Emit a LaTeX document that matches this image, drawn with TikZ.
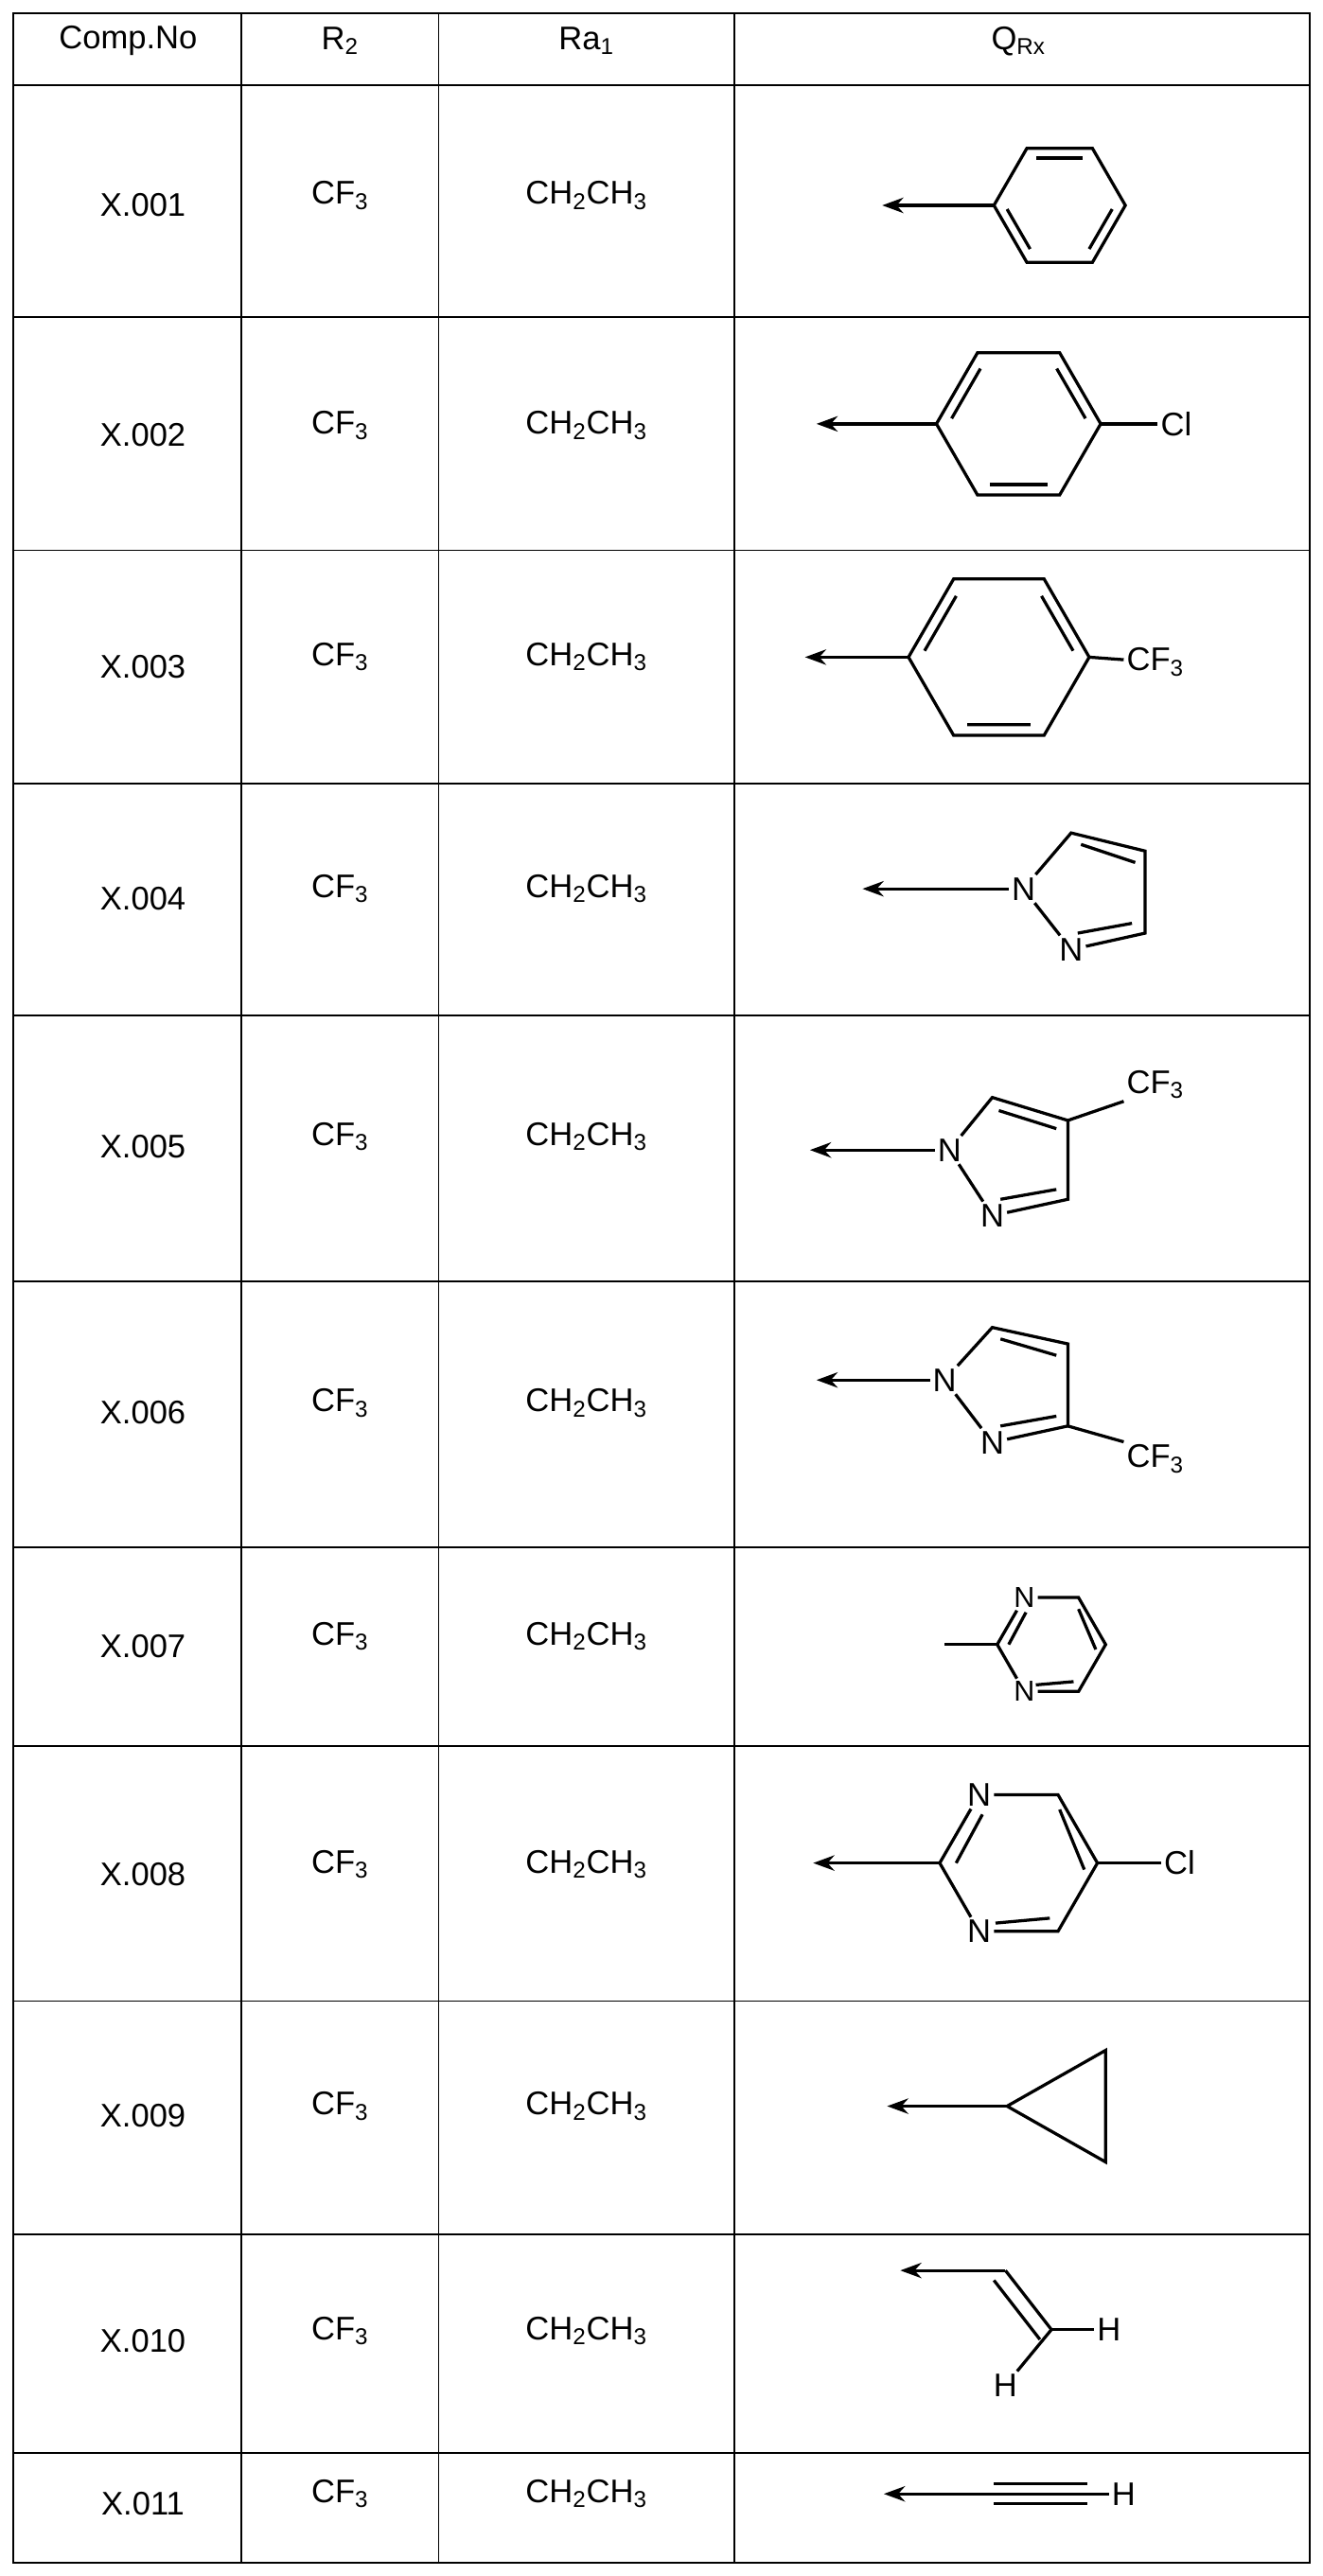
\documentclass[tikz,border=0pt]{standalone}
\usepackage{fontspec}
\setmainfont{Liberation Sans}
\usetikzlibrary{arrows.meta,calc}
\newcommand{\sub}[1]{\textsubscript{#1}}
\begin{document}
\begin{tikzpicture}[x=0.03cm,y=-0.03cm,line width=1.1pt,
  txt/.style={inner sep=1pt,font=\fontsize{17}{20}\selectfont},
  atm/.style={inner sep=1pt,font=\fontsize{17}{20}\selectfont},
  bnd/.style={line width=1.6pt},
  arr/.style={bnd,-{Stealth[length=11pt,width=8pt]}}]
\useasboundingbox (0,0) rectangle (805,1568);
% grid
\draw[line width=0.9pt] (8,8) rectangle (797,1560);
\foreach \x in {147,267,447} \draw[line width=0.9pt] (\x,8) -- (\x,1560);
\foreach \y in {52,193,335,477,618,780,942,1063,1218,1360,1493}
  \draw[line width=0.9pt] (8,\y) -- (797,\y);
% header
\node[txt] (h1) at (78,25) {Comp.No};
\node[txt] (h2) at (207,25) {R\sub{2}};
\node[txt] (h3) at (357,25) {Ra\sub{1}};
\node[txt] (h4) at (620,25) {Q\sub{Rx}};
% rows
\foreach \n/\y in {001/125,002/265,003/406,004/547,005/698,006/860,007/1002,008/1141,009/1288,010/1425,011/1524}{
  \node[txt] (c\n) at (87,\y) {X.\n};
  \node[txt] (r\n) at (207,\y-6) {CF\sub{3}};
  \node[txt] (a\n) at (357,\y-6) {CH\sub{2}CH\sub{3}};
}
% X.001 phenyl
\foreach \i in {0,...,5} \coordinate (p\i) at ($(645,125)+(180-60*\i:40 and -40)$);
\draw[bnd] (p0)--(p1)--(p2)--(p3)--(p4)--(p5)--cycle;
\foreach \i/\j in {1/2,3/4,5/0} \draw[bnd] ($(p\i)!0.15!(p\j)!0.17!-90:(p\j)$) -- ($(p\j)!0.15!(p\i)!0.17!90:(p\i)$);
\coordinate (e1) at (537,125);
\draw[arr] (p0) -- (e1);
% X.002 4-chlorophenyl
\foreach \i in {0,...,5} \coordinate (q\i) at ($(620,258)+(180-60*\i:50 and -50)$);
\draw[bnd] (q0)--(q1)--(q2)--(q3)--(q4)--(q5)--cycle;
\foreach \i/\j in {0/1,2/3,4/5} \draw[bnd] ($(q\i)!0.15!(q\j)!0.15!-90:(q\j)$) -- ($(q\j)!0.15!(q\i)!0.15!90:(q\i)$);
\node[atm] (cl2) at (716,258) {Cl};
\coordinate (e2) at (497,258);
\draw[arr] (q0) -- (e2);
\draw[bnd] (q3) -- (cl2);
% X.003 4-CF3-phenyl
\foreach \i in {0,...,5} \coordinate (s\i) at ($(608,400)+(180-60*\i:55 and -55)$);
\draw[bnd] (s0)--(s1)--(s2)--(s3)--(s4)--(s5)--cycle;
\foreach \i/\j in {0/1,2/3,4/5} \draw[bnd] ($(s\i)!0.15!(s\j)!0.14!-90:(s\j)$) -- ($(s\j)!0.15!(s\i)!0.14!90:(s\i)$);
\node[atm,anchor=west] (cf3) at (684,403) {CF\sub{3}};
\coordinate (e3) at (490,400);
\draw[arr] (s0) -- (e3);
\draw[bnd] (s3) -- (cf3);
% X.004 pyrazol-1-yl
\node[atm] (n4a) at (623,541) {N};
\node[atm] (n4b) at (652,578) {N};
\coordinate (c4a) at (652,507); \coordinate (c4b) at (697,518); \coordinate (c4c) at (697,568);
\draw[bnd] (n4a)--(c4a)--(c4b)--(c4c)--(n4b)--(n4a);
\draw[bnd] ($(c4a)+(6,7)$) -- ($(c4b)+(-6,7)$);
\draw[bnd] ($(c4c)+(-8,-6)$) -- ($(n4b)+(4,-10)$);
\coordinate (e4) at (525,541);
\draw[arr] (n4a) -- (e4);
% X.005 4-CF3-pyrazol-1-yl
\node[atm] (n5a) at (578,700) {N};
\node[atm] (n5b) at (604,740) {N};
\coordinate (c5a) at (604,668); \coordinate (c5b) at (650,682); \coordinate (c5c) at (650,730);
\draw[bnd] (n5a)--(c5a)--(c5b)--(c5c)--(n5b)--(n5a);
\draw[bnd] ($(c5a)+(4,8)$) -- ($(c5b)+(-7,5)$);
\draw[bnd] ($(c5c)+(-7,-6)$) -- ($(n5b)+(5,-10)$);
\node[atm,anchor=west] (cf5) at (684,660) {CF\sub{3}};
\draw[bnd] (c5b) -- (cf5.south west);
\coordinate (e5) at (493,700);
\draw[arr] (n5a) -- (e5);
% X.006 3-CF3-pyrazol-1-yl
\node[atm] (n6a) at (575,840) {N};
\node[atm] (n6b) at (604,878) {N};
\coordinate (c6a) at (604,808); \coordinate (c6b) at (650,818); \coordinate (c6c) at (650,868);
\draw[bnd] (n6a)--(c6a)--(c6b)--(c6c)--(n6b)--(n6a);
\draw[bnd] ($(c6a)+(5,7)$) -- ($(c6b)+(-7,7)$);
\draw[bnd] ($(c6c)+(-7,-6)$) -- ($(n6b)+(5,-10)$);
\node[atm,anchor=west] (cf6) at (684,888) {CF\sub{3}};
\draw[bnd] (c6c) -- (cf6.north west);
\coordinate (e6) at (497,840);
\draw[arr] (n6a) -- (e6);
% X.007 pyrimidin-2-yl
\foreach \i in {0,...,5} \coordinate (u\i) at ($(640,1001)+(180-60*\i:33 and -33)$);
\node[atm,font=\fontsize{15}{18}\selectfont] (n7a) at (u1) {N};
\node[atm,font=\fontsize{15}{18}\selectfont] (n7b) at (u5) {N};
\draw[bnd] (u0)--(n7a)--(u2)--(u3)--(u4)--(n7b)--(u0);
\draw[bnd] ($(u2)+(0,7)$) -- ($(u3)+(-6,3)$);
\draw[bnd] ($(u4)+(-3,-6)$) -- ($(n7b)+(7,-4)$);
\draw[bnd] ($(u0)+(7,0)$) -- ($(n7a)+(1,9)$);
\coordinate (e7) at (575,1001);
\draw[bnd] (u0) -- (e7);
% X.008 5-chloropyrimidin-2-yl
\foreach \i in {0,...,5} \coordinate (w\i) at ($(620,1134)+(180-60*\i:48 and -48)$);
\node[atm] (n8a) at (w1) {N};
\node[atm] (n8b) at (w5) {N};
\draw[bnd] (w0)--(n8a)--(w2)--(w3)--(w4)--(n8b)--(w0);
\draw[bnd] ($(w2)+(1,9)$) -- ($(w3)+(-8,4)$);
\draw[bnd] ($(w4)+(-5,-8)$) -- ($(n8b)+(10,-5)$);
\draw[bnd] ($(w0)+(10,0)$) -- ($(n8a)+(2,12)$);
\node[atm] (cl8) at (718,1134) {Cl};
\draw[bnd] (w3) -- (cl8);
\coordinate (e8) at (495,1134);
\draw[arr] (w0) -- (e8);
% X.009 cyclopropyl
\coordinate (y0) at (613,1282); \coordinate (y1) at (673,1248); \coordinate (y2) at (673,1316);
\draw[bnd] (y0)--(y1)--(y2)--cycle;
\coordinate (e9) at (540,1282);
\draw[arr] (y0) -- (e9);
% X.010 vinyl
\coordinate (v1) at (612,1382); \coordinate (v2) at (640,1418);
\node[atm] (h10a) at (675,1418) {H};
\node[atm] (h10b) at (612,1452) {H};
\draw[bnd] (v1) -- (v2);
\draw[bnd] ($(v1)+(-7,6)$) -- ($(v2)+(-7,6)$);
\draw[bnd] (v2) -- (h10a);
\draw[bnd] (v2) -- (h10b);
\coordinate (e10) at (548,1382);
\draw[arr] (v1) -- (e10);
% X.011 ethynyl
\coordinate (t1) at (605,1518); \coordinate (t2) at (662,1518);
\node[atm] (h11) at (684,1518) {H};
\draw[bnd] (t1) -- (t2);
\draw[bnd] ($(t1)+(0,-6)$) -- ($(t2)+(0,-6)$);
\draw[bnd] ($(t1)+(0,6)$) -- ($(t2)+(0,6)$);
\draw[bnd] (t2) -- (h11);
\coordinate (e11) at (538,1518);
\draw[arr] (t1) -- (e11);
\end{tikzpicture}
\end{document}
